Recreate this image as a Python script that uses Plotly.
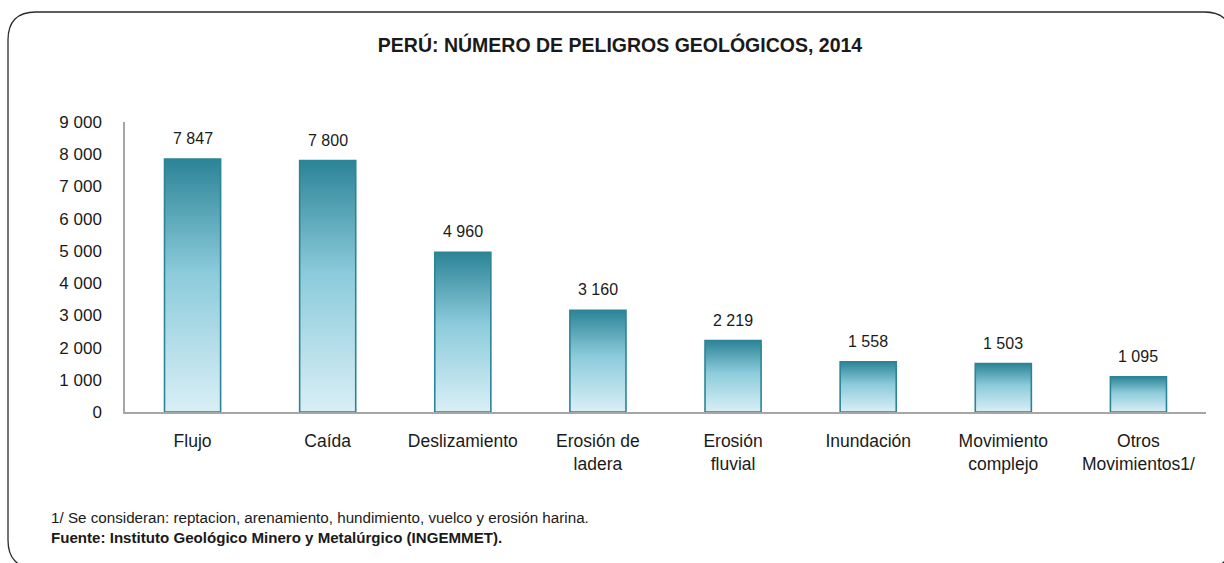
import plotly.graph_objects as go

categories = ["Flujo", "Caída", "Deslizamiento", "Erosión de<br>ladera", "Erosión<br>fluvial",
              "Inundación", "Movimiento<br>complejo", "Otros<br>Movimientos1/"]
values = [7847, 7800, 4960, 3160, 2219, 1558, 1503, 1095]
y_ticks = [0, 1000, 2000, 3000, 4000, 5000, 6000, 7000, 8000, 9000]

title_text = "<b>PERÚ: NÚMERO DE PELIGROS GEOLÓGICOS, 2014</b>"
note_text = "1/ Se consideran: reptacion, arenamiento, hundimiento, vuelco y erosión harina."
source_text = "<b>Fuente: Instituto Geológico Minero y Metalúrgico (INGEMMET).</b>"

W, H = 1224, 563
ML, MR, MT, MB = 125, 18, 122, 151
PW, PH = W - ML - MR, H - MT - MB
FONT = "Liberation Sans, Arial, sans-serif"
DARK = "#2c8497"
LIGHT = "#d9eff6"
BAR_W = 0.415


def fmt(v):
    return f"{v:,}".replace(",", " ")


def px_x(px):
    return (px - ML) / PW


def px_y(py):
    return (H - MB - py) / PH


fig = go.Figure()
for i, v in enumerate(values):
    x0, x1 = i - BAR_W / 2, i + BAR_W / 2
    fig.add_trace(go.Scatter(
        x=[x0, x0, x1, x1, x0], y=[0, v, v, 0, 0],
        mode="lines", fill="toself",
        line=dict(color=DARK, width=1.6),
        fillgradient=dict(type="vertical", colorscale=[[0, LIGHT], [0.55, "#8ccbdb"], [1, DARK]]),
        hoverinfo="text", hovertext=f"{categories[i].replace('<br>', ' ')}: {fmt(v)}",
        showlegend=False,
    ))
    fig.add_annotation(x=i, y=v, text=fmt(v), showarrow=False, yanchor="bottom", yshift=10,
                       font=dict(family=FONT, size=16, color="#1a1a1a"))

# rounded frame
L, T, R, B, r = px_x(8), px_y(12), px_x(1232), px_y(568), 28
rx, ry = r / PW, r / PH
path = (f"M {L + rx} {T} L {R - rx} {T} Q {R} {T} {R} {T - ry} "
        f"L {R} {B + ry} Q {R} {B} {R - rx} {B} "
        f"L {L + rx} {B} Q {L} {B} {L} {B + ry} "
        f"L {L} {T - ry} Q {L} {T} {L + rx} {T} Z")
fig.add_shape(type="path", path=path, xref="paper", yref="paper",
              line=dict(color="#2b2b2b", width=1.3), layer="below")

fig.add_annotation(xref="paper", yref="paper", x=px_x(49), y=px_y(517), text=note_text,
                   showarrow=False, xanchor="left", yanchor="middle",
                   font=dict(family=FONT, size=15.2, color="#1a1a1a"))
fig.add_annotation(xref="paper", yref="paper", x=px_x(49), y=px_y(537), text=source_text,
                   showarrow=False, xanchor="left", yanchor="middle",
                   font=dict(family=FONT, size=15.1, color="#1a1a1a"))

fig.update_layout(
    width=W, height=H,
    margin=dict(l=ML, r=MR, t=MT, b=MB),
    paper_bgcolor="white", plot_bgcolor="white",
    separators=", ",
    font=dict(family=FONT, color="#1a1a1a"),
    title=dict(text=title_text, x=620 / W, xref="container", xanchor="center",
               y=1 - 45 / H, yref="container", yanchor="middle",
               font=dict(family=FONT, size=19.5, color="#1a1a1a")),
    xaxis=dict(range=[-0.5, 7.5], tickmode="array", tickvals=list(range(len(categories))),
               ticktext=categories, showgrid=False, zeroline=False,
               showline=True, linecolor="#a6a6a6", linewidth=1.5,
               ticks="", ticklabelstandoff=12, tickfont=dict(family=FONT, size=17.5),
               fixedrange=True),
    yaxis=dict(range=[0, 9000], tickmode="array", tickvals=y_ticks, tickformat=",",
               showgrid=False, zeroline=False, showline=True, linecolor="#a6a6a6",
               linewidth=1.5, ticks="", ticklabelstandoff=18,
               tickfont=dict(family=FONT, size=17), fixedrange=True),
)

fig.write_html("out.html", config={"displayModeBar": False},
               post_script="document.body.style.margin='0';document.body.style.padding='0';")
